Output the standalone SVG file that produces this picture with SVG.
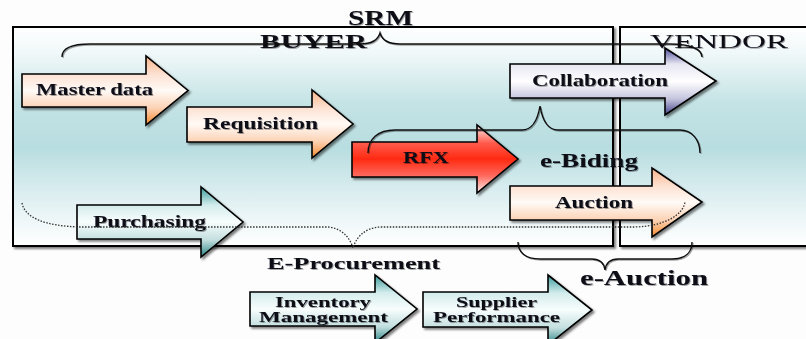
<svg xmlns="http://www.w3.org/2000/svg" width="806" height="339" viewBox="0 0 806 339">
<defs>
<linearGradient id="bg" x1="0" y1="0" x2="0" y2="1">
<stop offset="0" stop-color="#ffffff"/>
<stop offset="0.12" stop-color="#f0f8f9"/>
<stop offset="0.35" stop-color="#c4e3e5"/>
<stop offset="0.55" stop-color="#b8dde0"/>
<stop offset="0.8" stop-color="#e2f1f3"/>
<stop offset="1" stop-color="#ffffff"/>
</linearGradient>
<linearGradient id="peach" x1="0" y1="0" x2="0" y2="1">
<stop offset="0" stop-color="#f8b48a"/>
<stop offset="0.27" stop-color="#fde2d3"/>
<stop offset="0.5" stop-color="#fffaf6"/>
<stop offset="0.75" stop-color="#fcd3b6"/>
<stop offset="1" stop-color="#f58a30"/>
</linearGradient>
<linearGradient id="red" x1="0" y1="0" x2="0" y2="1">
<stop offset="0" stop-color="#ffeaea"/>
<stop offset="0.27" stop-color="#ff5a4a"/>
<stop offset="0.5" stop-color="#ff2a12"/>
<stop offset="0.75" stop-color="#ff6a5e"/>
<stop offset="1" stop-color="#fff0f0"/>
</linearGradient>
<linearGradient id="blue" x1="0" y1="0" x2="0" y2="1">
<stop offset="0" stop-color="#4e4e9a"/>
<stop offset="0.24" stop-color="#e6e6f2"/>
<stop offset="0.5" stop-color="#ffffff"/>
<stop offset="0.76" stop-color="#c4c4de"/>
<stop offset="1" stop-color="#45458c"/>
</linearGradient>
<linearGradient id="teal" x1="0" y1="0" x2="0" y2="1">
<stop offset="0" stop-color="#3a9a9a"/>
<stop offset="0.26" stop-color="#d4ecec"/>
<stop offset="0.5" stop-color="#f8fdfd"/>
<stop offset="0.76" stop-color="#c2dede"/>
<stop offset="1" stop-color="#2a8282"/>
</linearGradient>
<filter id="sh" x="-10%" y="-10%" width="130%" height="130%">
<feDropShadow dx="2" dy="2" stdDeviation="0.8" flood-color="#000" flood-opacity="0.5"/>
</filter>
<filter id="tsh" x="-10%" y="-20%" width="130%" height="150%">
<feDropShadow dx="1" dy="1" stdDeviation="0.4" flood-color="#000" flood-opacity="0.35"/>
</filter>
</defs>
<style>
.box{fill:url(#bg);stroke:#000;stroke-width:2;filter:url(#sh)}
.arr{stroke:#000;stroke-width:1.6;stroke-linejoin:miter;filter:url(#sh)}
.t{font-family:"Liberation Serif","Times New Roman",serif;font-weight:bold;fill:#0a0a16;text-anchor:start;filter:url(#tsh)}
.brace{fill:none;stroke:#111;stroke-width:1.4;filter:url(#tsh)}
.dot{fill:none;stroke:#333;stroke-width:1.3;stroke-dasharray:1.5 1.5}
</style>
<rect width="806" height="339" fill="#fdfdfd"/>

<g id="buyer">
<rect class="box" x="13" y="27" width="600" height="219"/>
<text class="t" x="260" y="47.5" font-size="19.5" textLength="107" lengthAdjust="spacingAndGlyphs">BUYER</text>
</g>
<g id="vendor">
<rect class="box" x="620" y="27" width="200" height="219"/>
<text class="t" x="650" y="47.5" font-size="19.5" style="font-weight:normal" textLength="138" lengthAdjust="spacingAndGlyphs">VENDOR</text>
</g>

<g id="master-data">
<path class="arr" fill="url(#peach)" d="M22,74 H146 V56 L188,90.5 L146,125 V107 H22 Z"/>
<text class="t" x="36" y="94.5" font-size="16.5" textLength="117" lengthAdjust="spacingAndGlyphs">Master data</text>
</g>
<g id="requisition">
<path class="arr" fill="url(#peach)" d="M187,107 H312 V90 L353,124 L312,158 V142 H187 Z"/>
<text class="t" x="203" y="129" font-size="16.5" textLength="115" lengthAdjust="spacingAndGlyphs">Requisition</text>
</g>
<g id="rfx">
<path class="arr" fill="url(#red)" d="M352,142 H477 V125 L518,159 L477,193 V177 H352 Z"/>
<text class="t" x="403" y="162.5" font-size="16.5" textLength="46" lengthAdjust="spacingAndGlyphs">RFX</text>
</g>
<g id="collaboration">
<path class="arr" fill="url(#blue)" d="M510,64 H665 V48 L716,81 L665,115 V98 H510 Z"/>
<text class="t" x="532" y="85.5" font-size="16.5" textLength="136" lengthAdjust="spacingAndGlyphs">Collaboration</text>
</g>
<g id="auction">
<path class="arr" fill="url(#peach)" d="M510,186 H652 V168 L702,202 L652,237 V220 H510 Z"/>
<text class="t" x="555" y="207.5" font-size="16.5" textLength="78" lengthAdjust="spacingAndGlyphs">Auction</text>
</g>
<g id="purchasing">
<path class="arr" fill="url(#teal)" d="M77,205 H201 V187 L243,222 L201,257 V239 H77 Z"/>
<text class="t" x="93" y="226.5" font-size="16.5" textLength="113" lengthAdjust="spacingAndGlyphs">Purchasing</text>
</g>
<g id="inventory-management">
<path class="arr" fill="url(#teal)" d="M250,292 H375 V275 L417,309 L375,343 V326 H250 Z"/>
<text class="t" x="275" y="306.5" font-size="14.5" textLength="96" lengthAdjust="spacingAndGlyphs">Inventory</text>
<text class="t" x="259" y="322" font-size="14.5" textLength="129" lengthAdjust="spacingAndGlyphs">Management</text>
</g>
<g id="supplier-performance">
<path class="arr" fill="url(#teal)" d="M423,292 H548 V275 L592,310 L548,345 V327 H423 Z"/>
<text class="t" x="456" y="306.5" font-size="14.5" textLength="81" lengthAdjust="spacingAndGlyphs">Supplier</text>
<text class="t" x="433" y="322" font-size="14.5" textLength="127" lengthAdjust="spacingAndGlyphs">Performance</text>
</g>

<g id="connectors">
<path class="brace" d="M62,57 C62,49 70,44 90,44 H360 C372,44 378,40 380,33 C382,40 388,44 400,44 H670 C690,44 702,49 702,57"/>
<path class="brace" d="M368,153 C368,139 378,130 395,130 H522 C533,130 538,118 540,106 C542,118 547,130 558,130 H680 C692,130 700,140 700,153"/>
<path class="dot" d="M22,203 C25,218 45,226 80,227 H328 C342,228 350,238 353,248 C356,238 364,228 380,227 H635 C665,226 683,215 685,202"/>
<path class="brace" d="M518,242 C518,252 525,259 540,259 H592 C600,259 604,263 605,270 C606,263 610,259 618,259 H672 C686,259 692,252 692,242"/>
</g>

<g id="labels">
<text class="t" x="348" y="25" font-size="20" textLength="65" lengthAdjust="spacingAndGlyphs">SRM</text>
<text class="t" x="540" y="166.5" font-size="18.5" textLength="98" lengthAdjust="spacingAndGlyphs">e-Biding</text>
<text class="t" x="267" y="268.5" font-size="17.5" textLength="173" lengthAdjust="spacingAndGlyphs">E-Procurement</text>
<text class="t" x="580" y="284.5" font-size="22" textLength="128" lengthAdjust="spacingAndGlyphs">e-Auction</text>
</g>
</svg>
